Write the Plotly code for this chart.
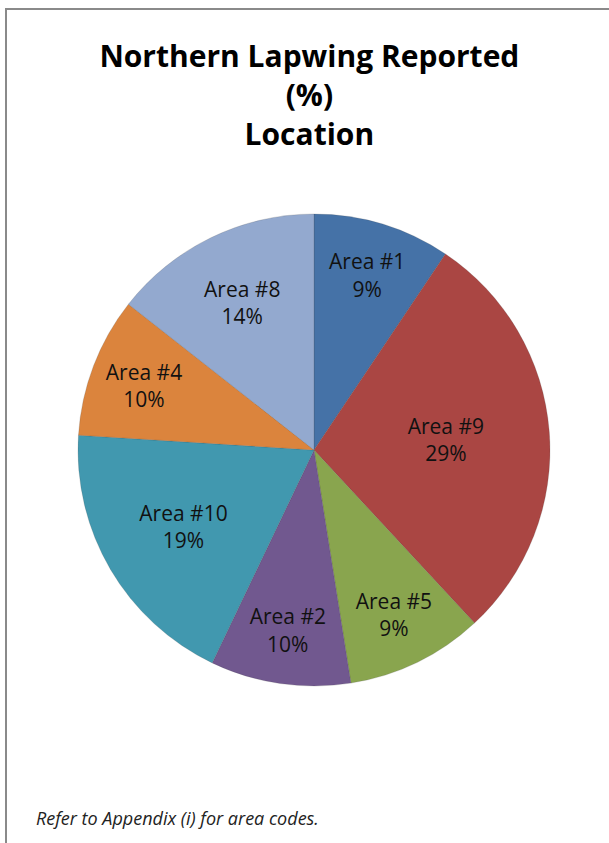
import plotly.graph_objects as go

labels = ["Area #1", "Area #9", "Area #5", "Area #2", "Area #10", "Area #4", "Area #8"]
values = [9.4, 28.7, 9.4, 9.6, 18.9, 9.6, 14.4]
colors = ["#4572A7", "#AA4643", "#89A54E", "#71588F", "#4198AF", "#DB843D", "#93A9CF"]

W, H = 609, 843
cx, cy, r = 314, 450, 236
FONT = "Open Sans, Lato, sans-serif"

fig = go.Figure(go.Pie(
    labels=labels,
    values=values,
    sort=False,
    direction="clockwise",
    rotation=0,
    marker=dict(colors=colors, line=dict(color="rgba(60,60,60,0.35)", width=0.5)),
    texttemplate="%{label}<br>%{percent:.0%}",
    textposition="inside",
    insidetextorientation="horizontal",
    textfont=dict(family=FONT, size=21, color="#111111"),
    showlegend=False,
    hoverinfo="label+percent",
    domain=dict(x=[(cx - r) / W, (cx + r) / W], y=[(H - cy - r) / H, (H - cy + r) / H]),
))

fig.update_layout(
    width=W, height=H,
    margin=dict(l=0, r=0, t=0, b=0),
    paper_bgcolor="white",
    plot_bgcolor="white",
    title=dict(
        text="<b>Northern Lapwing Reported<br>(%)<br>Location</b>",
        x=0.508, xanchor="center", y=1 - 67 / H, yanchor="top",
        font=dict(family=FONT, size=30, color="black"),
    ),
    annotations=[dict(
        text="<i>Refer to Appendix (i) for area codes.</i>",
        xref="paper", yref="paper", x=34 / W, y=1 - 818 / H,
        xanchor="left", yanchor="middle", showarrow=False,
        font=dict(family=FONT, size=18, color="#222222"),
    )],
    shapes=[dict(
        type="rect", xref="paper", yref="paper",
        x0=6 / W, x1=1.02, y0=-0.02, y1=1 - 9 / H,
        line=dict(color="#8a8a8a", width=2), fillcolor="rgba(0,0,0,0)", layer="above",
    )],
)

fig.write_html("out.html", config={"displayModeBar": False},
               post_script="document.body.style.margin='0';")
